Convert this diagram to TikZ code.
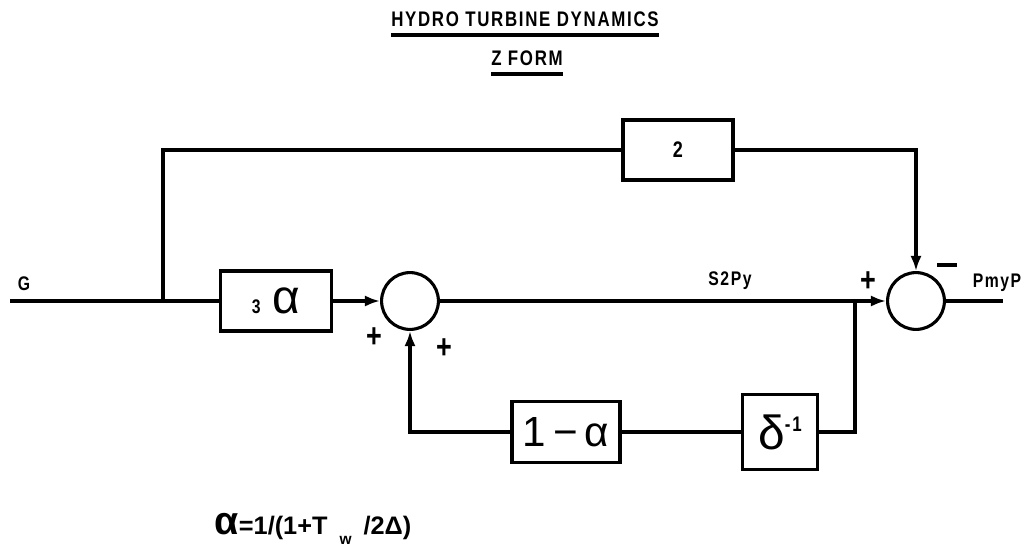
\documentclass[tikz,border=0pt]{standalone}
\usepackage{fontspec}
\setmainfont{Liberation Sans}[FakeStretch=0.8, LetterSpace=8]
\newfontfamily\greekfont{Liberation Sans}
\usetikzlibrary{arrows.meta, positioning}
\tikzset{
  blk/.style  = {draw, line width=2.2pt, minimum width=#1, minimum height=1.5cm,
                 inner sep=0pt, font=\bfseries\fontsize{16}{16}\selectfont},
  sum/.style  = {draw, circle, line width=2.2pt, minimum size=1.42cm, inner sep=0pt},
  wire/.style = {line width=2.2pt},
  feed/.style = {wire, -{Latex[length=3.8mm,width=2.8mm]}},
  sgn/.style  = {font=\bfseries\fontsize{24}{24}\selectfont, inner sep=0pt},
  lbl/.style  = {font=\bfseries\fontsize{14}{14}\selectfont, inner sep=0pt},
  ttl/.style  = {font=\bfseries\fontsize{15}{15}\selectfont, inner sep=0pt},
}

\begin{document}
\begin{tikzpicture}[x=0.025cm, y=-0.025cm]
\useasboundingbox (0,0) rectangle (1022,548);

\node[ttl] (head) at (525,19) {HYDRO TURBINE DYNAMICS};
\node[ttl] (form) at (527,58) {Z FORM};
\draw[wire] ([yshift=-4mm]head.west) -- ([yshift=-4mm]head.east);
\draw[wire] ([yshift=-4mm]form.west) -- ([yshift=-4mm]form.east);

\coordinate (gin) at (10,301);
\coordinate (brA) at (163,301);
\coordinate (brB) at (855,301);
\coordinate (pout) at (1003,301);

\node[blk=2.78cm] (alp) at (276,301)
  {\fontsize{14}{14}\selectfont 3\hspace{3mm}{\greekfont\mdseries\fontsize{34}{34}\selectfont α}};
\node[sum] (sA) at (410,301) {};
\node[sum] (sB) at (916,301) {};
\node[blk=2.75cm] (two) at (678,150) {2};
\node[blk=2.7cm, minimum height=1.52cm] (oma) at (566,432)
  {{\greekfont\mdseries\fontsize{30}{30}\selectfont 1\,−\,α}};
\node[blk=1.875cm, minimum height=1.875cm] (dlt) at (780,432)
  {{\greekfont\mdseries\fontsize{34}{34}\selectfont δ}\raisebox{4.5mm}{\fontsize{15}{15}\selectfont -1}};

\draw[wire] (gin) -- (alp);
\draw[wire] (brA) |- (two);
\draw[feed] (two) -| (sB);
\draw[feed] (alp) -- (sA);
\draw[feed] (sA) -- (sB);
\draw[wire] (sB) -- (pout);
\draw[wire] (brB) |- (dlt);
\draw[wire] (dlt) -- (oma);
\draw[feed] (oma) -| (sA);

\node[lbl] (gl) at (24,284) {G};
\node[lbl] (s2) at (730,281) {S2Py};
\node[lbl] (pm) at (997,283) {PmyP};

\node[sgn] (pA) at (374,338) {+};
\node[sgn] (pB) at (444,349) {+};
\node[sgn] (pC) at (868,282) {+};
\node[sgn] (mC) at (947,265) {\rule{4.8mm}{2.2pt}};

\node[font=\greekfont\bfseries\fontsize{18}{18}\selectfont, inner sep=0pt] (eq) at (313,529)
  {{\fontsize{28}{28}\selectfont α}=1/(1+T\hspace{3mm}\raisebox{-0.8ex}{\fontsize{11}{11}\selectfont w}\hspace{3mm}/2Δ)};

\end{tikzpicture}
\end{document}
